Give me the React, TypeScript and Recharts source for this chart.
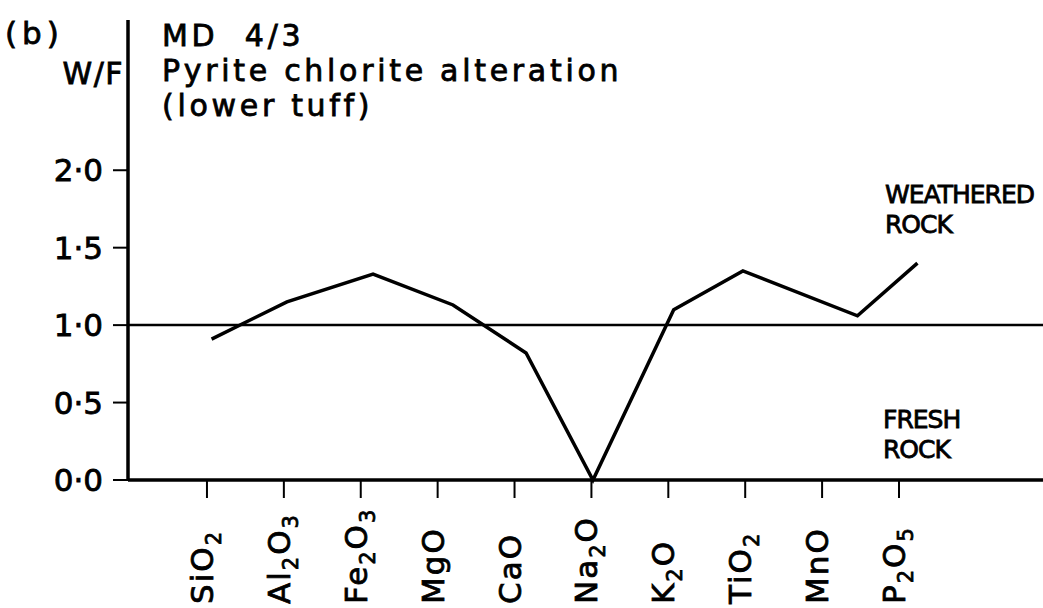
import { LineChart, Line, XAxis, YAxis, ReferenceLine } from "recharts";

const FONT = "'DejaVu Sans', sans-serif";

const oxides = ["SiO2", "Al2O3", "Fe2O3", "MgO", "CaO", "Na2O", "K2O", "TiO2", "MnO", "P2O5"];
// position of each vertex along the axis, in oxide slots (0 = SiO2 tick); the drawing is hand-placed
const vertexPos = [0.06, 1.04, 2.16, 3.2, 4.15, 5.02, 6.07, 6.97, 8.46, 9.24];
const wfRatio = [0.91, 1.15, 1.33, 1.13, 0.82, 0.0, 1.1, 1.35, 1.06, 1.4];
const yTicks = [0, 0.5, 1, 1.5, 2];
const oxideTicks = oxides.map((_, i) => i);

const data = vertexPos.map((pos, i) => ({ pos, oxide: oxides[i], wf: wfRatio[i] }));

// heavier glyphs, like the drafting pen of the original
const ink = { fill: "#000", stroke: "#000", strokeWidth: 0.8, fontFamily: FONT };

function OxideTick({ x, y, payload }: any) {
  const label = oxides[payload.value] ?? "";
  const parts = label.match(/[A-Za-z]+|\d/g) ?? [];
  return (
    <g transform={`translate(${x + 6},${y + 104}) rotate(-90)`}>
      <text {...ink} fontSize={31} letterSpacing={2}>
        {parts.map((p, k) => {
          const isDigit = /\d/.test(p);
          const prevDigit = k > 0 && /\d/.test(parts[k - 1]);
          const dy = isDigit ? 8 : prevDigit ? -8 : 0;
          return (
            <tspan key={k} dy={dy} fontSize={isDigit ? 21 : 31}>
              {p}
            </tspan>
          );
        })}
      </text>
    </g>
  );
}

const fmt = (v: number) => v.toFixed(1).replace(".", "\u00b7");

export default function App() {
  return (
    <div style={{ position: "absolute", left: 0, top: 0, background: "#fff" }}>
      <LineChart width={1043} height={608} data={data} margin={{ top: 20, right: 0, bottom: 0, left: 0 }}>
        <XAxis
          type="number"
          dataKey="pos"
          domain={[-1.027, 10.873]}
          ticks={oxideTicks}
          interval={0}
          allowDataOverflow
          height={128}
          tickSize={18}
          tick={<OxideTick />}
          axisLine={{ stroke: "#000", strokeWidth: 3.5 }}
          tickLine={{ stroke: "#000", strokeWidth: 2 }}
        />
        <YAxis
          type="number"
          domain={[0, 2.97]}
          ticks={yTicks}
          width={128}
          tickSize={15}
          tickMargin={10}
          tickFormatter={fmt}
          tick={{ ...ink, fontSize: 31 }}
          axisLine={{ stroke: "#000", strokeWidth: 3.5 }}
          tickLine={{ stroke: "#000", strokeWidth: 2 }}
        />
        <ReferenceLine y={1} stroke="#000" strokeWidth={2.5} />
        <Line
          type="linear"
          dataKey="wf"
          stroke="#000"
          strokeWidth={3.5}
          dot={false}
          isAnimationActive={false}
        />
        <text x={5} y={44} {...ink} fontSize={31} letterSpacing={5}>(b)</text>
        <text x={124} y={84} textAnchor="end" {...ink} fontSize={30} letterSpacing={1.5}>W/F</text>
        <text x={162} y={46} {...ink} fontSize={30} letterSpacing={3.7}>{"MD\u00a0\u00a04/3"}</text>
        <text x={162} y={81} {...ink} fontSize={30} letterSpacing={3.7}>Pyrite chlorite alteration</text>
        <text x={162} y={116} {...ink} fontSize={30} letterSpacing={3.7}>(lower tuff)</text>
        <text x={885} y={203} {...ink} fontSize={25} letterSpacing={-1}>WEATHERED</text>
        <text x={885} y={233} {...ink} fontSize={25} letterSpacing={-1}>ROCK</text>
        <text x={883} y={428} {...ink} fontSize={25} letterSpacing={-1}>FRESH</text>
        <text x={883} y={458} {...ink} fontSize={25} letterSpacing={-1}>ROCK</text>
      </LineChart>
    </div>
  );
}
